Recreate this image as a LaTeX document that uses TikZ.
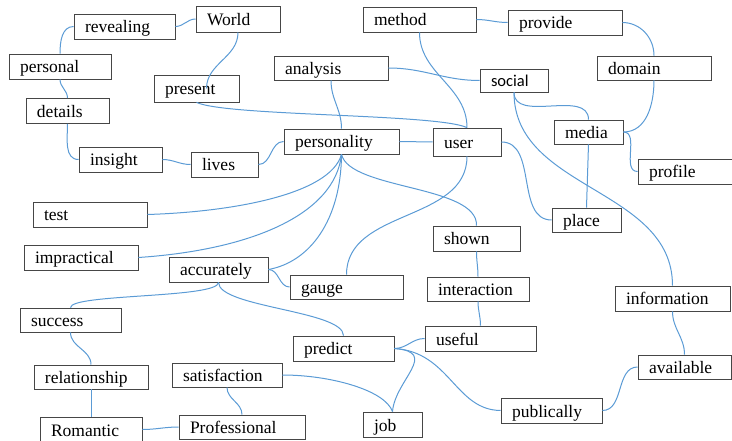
\documentclass[tikz,border=0pt]{standalone}
\usepackage{fontspec}
\newfontfamily\boxfont{Liberation Serif}
\newfontfamily\socialfont{Carlito}
\definecolor{linkblue}{RGB}{91,155,213}
\definecolor{boxgray}{RGB}{70,70,70}
\begin{document}
\begin{tikzpicture}[x=1pt,y=1pt,
  wordbox/.style={draw=boxgray,line width=0.8pt,fill=white,minimum height=25pt,
    inner xsep=11pt,inner ysep=2pt,text width=#1pt,align=left,
    text height=15pt,text depth=2pt,
    font=\boxfont\fontsize{17.5}{19}\selectfont},
  link/.style={draw=linkblue,line width=1pt}]
  \useasboundingbox (0,0) rectangle (732,-441);
  % word boxes
  \node[wordbox=79] (revealing) at (124.5,-26.5) {revealing};
  \node[wordbox=62,minimum height=26pt] (World) at (238,-19) {World};
  \node[wordbox=80] (personal) at (60,-66.5) {personal};
  \node[wordbox=63,minimum height=27pt] (present) at (196.5,-88.5) {present};
  \node[wordbox=92,minimum height=24pt] (analysis) at (331,-68) {analysis};
  \node[wordbox=61] (details) at (67.5,-111) {details};
  \node[wordbox=93] (personality) at (341.5,-141.5) {personality};
  \node[wordbox=61] (insight) at (120.5,-159.5) {insight};
  \node[wordbox=45] (lives) at (224.5,-164.5) {lives};
  \node[wordbox=92] (test) at (90,-214.5) {test};
  \node[wordbox=91] (method) at (419.5,-19.5) {method};
  \node[wordbox=92] (provide) at (565,-22.5) {provide};
  \node[wordbox=92,minimum height=24pt] (domain) at (654,-68) {domain};
  \node[wordbox=46,minimum height=23pt,font=\socialfont\fontsize{16.5}{18}\selectfont] (social) at (514,-80.5) {social};
  \node[wordbox=46,minimum height=28pt] (user) at (467,-142) {user};
  \node[wordbox=47,minimum height=24pt] (media) at (588.5,-132) {media};
  \node[wordbox=72] (profile) at (685,-171.5) {profile};
  \node[wordbox=47,minimum height=24pt] (place) at (586.5,-220) {place};
  \node[wordbox=92] (impractical) at (81,-257.5) {impractical};
  \node[wordbox=77] (accurately) at (218.5,-269.5) {accurately};
  \node[wordbox=91,minimum height=24pt] (gauge) at (346.5,-287) {gauge};
  \node[wordbox=79,minimum height=24pt] (success) at (70.5,-320) {success};
  \node[wordbox=79] (predict) at (343.5,-348.5) {predict};
  \node[wordbox=92,minimum height=24pt] (relationship) at (91,-377) {relationship};
  \node[wordbox=88,minimum height=24pt] (satisfaction) at (227,-375) {satisfaction};
  \node[wordbox=80] (Romantic) at (91,-429.5) {Romantic};
  \node[wordbox=104,minimum height=24pt] (Professional) at (242,-427) {Professional};
  \node[wordbox=37] (job) at (392.5,-424.5) {job};
  \node[wordbox=65] (shown) at (476.5,-238.5) {shown};
  \node[wordbox=80,minimum height=24pt] (interaction) at (478,-289) {interaction};
  \node[wordbox=89] (useful) at (480.5,-338.5) {useful};
  \node[wordbox=93] (information) at (672.5,-298.5) {information};
  \node[wordbox=71,minimum height=24pt] (available) at (684.5,-367) {available};
  \node[wordbox=79] (publically) at (551.5,-410.5) {publically};
  % connectors
  \draw[link] (revealing.east) to[out=0,in=180] (World.west);
  \draw[link] (revealing.west) to[out=180,in=90] (personal.north);
  \draw[link] (personal.south) to[out=-90,in=90] (details.north);
  \draw[link] (details.south) to[out=-90,in=180] (insight.west);
  \draw[link] (insight.east) to[out=0,in=180] (lives.west);
  \draw[link] (lives.east) to[out=0,in=180] (personality.west);
  \draw[link] (World.south) to[out=-90,in=90] ([xshift=10pt]present.center);
  \draw[link] (present.south) .. controls +(30,-14) and +(-30,14) .. (user.north);
  \draw[link] (analysis.south) to[out=-90,in=90] (personality.north);
  \draw[link] (analysis.east) to[out=0,in=180] (social.west);
  \draw[link] (method.south) to[out=-90,in=90] (user.north);
  \draw[link] (method.east) to[out=0,in=180] (provide.west);
  \draw[link] (provide.east) to[out=0,in=90] (domain.north);
  \draw[link] (domain.south) to[out=-90,in=0] (media.east);
  \draw[link] (media.east) to[out=0,in=180] (profile.west);
  \draw[link] (social.south) to[out=-90,in=90] (media.north);
  \draw[link] (social.south) to[out=-90,in=90] (information.north);
  \draw[link] (media.south) -- (place.north);
  \draw[link] (user.east) to[out=0,in=180] (place.west);
  \draw[link] (personality.east) to[out=0,in=180] (user.west);
  \draw[link] (user.south) to[out=-90,in=90] (gauge.north);
  \draw[link] (personality.south) .. controls (330,-195) and (230,-212) .. (test.east);
  \draw[link] (personality.south) .. controls (335,-215) and (250,-250) .. (impractical.east);
  \draw[link] (personality.south) .. controls (341,-220) and (310,-262) .. (accurately.east);
  \draw[link] (personality.south) .. controls (350,-190) and (478,-185) .. (shown.north);
  \draw[link] (accurately.east) to[out=0,in=180] (gauge.west);
  \draw[link] (accurately.south) .. controls +(0,-16) and +(0,14) .. (success.north);
  \draw[link] (accurately.south) .. controls +(0,-25) and +(0,25) .. (predict.north);
  \draw[link] (success.south) to[out=-90,in=90] (relationship.north);
  \draw[link] (relationship.south) -- (Romantic.north);
  \draw[link] (Romantic.east) to[out=0,in=180] (Professional.west);
  \draw[link] (satisfaction.south) to[out=-90,in=90] (Professional.north);
  \draw[link] (satisfaction.east) .. controls (330,-375) and (385,-390) .. (job.north);
  \draw[link] (predict.east) .. controls (440,-352) and (395,-380) .. (job.north);
  \draw[link] (predict.east) to[out=0,in=180] (useful.west);
  \draw[link] (predict.east) .. controls (450,-352) and (455,-410) .. (publically.west);
  \draw[link] (shown.south) to[out=-90,in=90] (interaction.north);
  \draw[link] (interaction.south) to[out=-90,in=90] (useful.north);
  \draw[link] (information.south) to[out=-90,in=90] (available.north);
  \draw[link] (available.west) to[out=180,in=0] (publically.east);
\end{tikzpicture}
\end{document}
